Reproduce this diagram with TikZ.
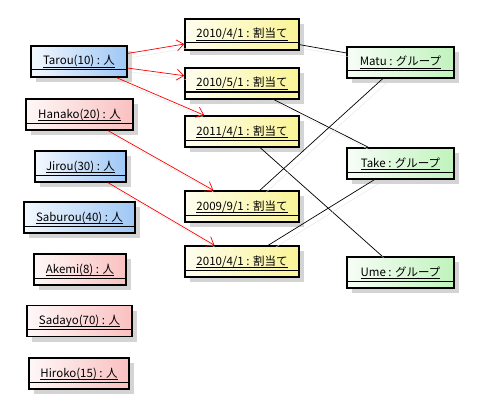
\documentclass[tikz,border=0pt]{standalone}
\usepackage{fontspec}
\setmainfont{Noto Sans CJK JP}
\usetikzlibrary{shadows,arrows.meta}

\definecolor{pblue}{RGB}{158,199,245}
\definecolor{ppink}{RGB}{250,192,192}
\definecolor{pyellow}{RGB}{250,244,150}
\definecolor{pgreen}{RGB}{192,243,188}

% underlined object name, rule close to the baseline
\newcommand{\uname}[1]{\setbox0\hbox{#1}\rlap{\rule[-2.2pt]{\wd0}{0.6pt}}\box0}

\tikzset{
  obj/.style={draw, line width=1.5pt, minimum height=31pt, inner xsep=2pt, inner ysep=3pt,
    text height=16pt, text depth=9pt, font=\fontsize{11.5}{14}\selectfont,
    drop shadow={shadow xshift=5pt, shadow yshift=-5pt, fill=black!17, opacity=1},
    path picture={\draw[line width=1pt] ([yshift=7pt]path picture bounding box.south west)
      -- ([yshift=7pt]path picture bounding box.south east);}},
  man/.style={obj, left color=pblue!12, right color=pblue},
  woman/.style={obj, left color=ppink!12, right color=ppink},
  wari/.style={obj, minimum width=114pt, left color=pyellow!15, right color=pyellow},
  group/.style={obj, minimum width=107pt, left color=pgreen!12, right color=pgreen},
  lshadow/.style={preaction={draw=black!10, -, transform canvas={shift={(4pt,-4pt)}}}},
  assoc/.style={red, line width=0.7pt, lshadow, -{Straight Barb[length=7pt,width=11pt]}},
  link/.style={black, line width=0.7pt, lshadow}
}

\begin{document}
\begin{tikzpicture}[x=1pt, y=-1pt]
      \useasboundingbox[fill=white] (0,0) rectangle (478,409);

      % Persons
      \node[man, minimum width=96pt] (tarou) at (79, 61.5) {\uname{Tarou(10) : 人}};
      \node[woman, minimum width=107pt] (hanako) at (79.5, 114.5) {\uname{Hanako(20) : 人}};
      \node[man, minimum width=91pt] (jirou) at (80.5, 166.5) {\uname{Jirou(30) : 人}};
      \node[man, minimum width=111pt] (saburou) at (79.5, 217.5) {\uname{Saburou(40) : 人}};
      \node[woman, minimum width=92pt] (akemi) at (80, 269.5) {\uname{Akemi(8) : 人}};
      \node[woman, minimum width=105pt] (sadayo) at (79.5, 321) {\uname{Sadayo(70) : 人}};
      \node[woman, minimum width=100pt] (hiroko) at (79, 373.5) {\uname{Hiroko(15) : 人}};

      % Assignments
      \node[wari] (w1) at (242, 34.5) {\uname{2010/4/1 : 割当て}};
      \node[wari] (w2) at (242, 83.5) {\uname{2010/5/1 : 割当て}};
      \node[wari] (w3) at (242, 131.5) {\uname{2011/4/1 : 割当て}};
      \node[wari] (w4) at (242, 206.5) {\uname{2009/9/1 : 割当て}};
      \node[wari] (w5) at (242, 261.5) {\uname{2010/4/1 : 割当て}};

      % Groups
      \node[group] (matu) at (400.5, 62.5) {\uname{Matu : グループ}};
      \node[group] (take) at (400.5, 163.5) {\uname{Take : グループ}};
      \node[group] (ume) at (400.5, 272.5) {\uname{Ume : グループ}};

      % Links
      \draw[assoc] (tarou) -- (w1);
      \draw[assoc] (tarou) -- (w2);
      \draw[assoc] (tarou) -- (w3);
      \draw[assoc] (hanako) -- (w4);
      \draw[assoc] (jirou) -- (w5);

      \draw[link] (w1) -- (matu);
      \draw[link] (w2) -- (take);
      \draw[link] (w3) -- (ume);
      \draw[link] (w4) -- (matu);
      \draw[link] (w5) -- (take);
    \end{tikzpicture}
\end{document}
